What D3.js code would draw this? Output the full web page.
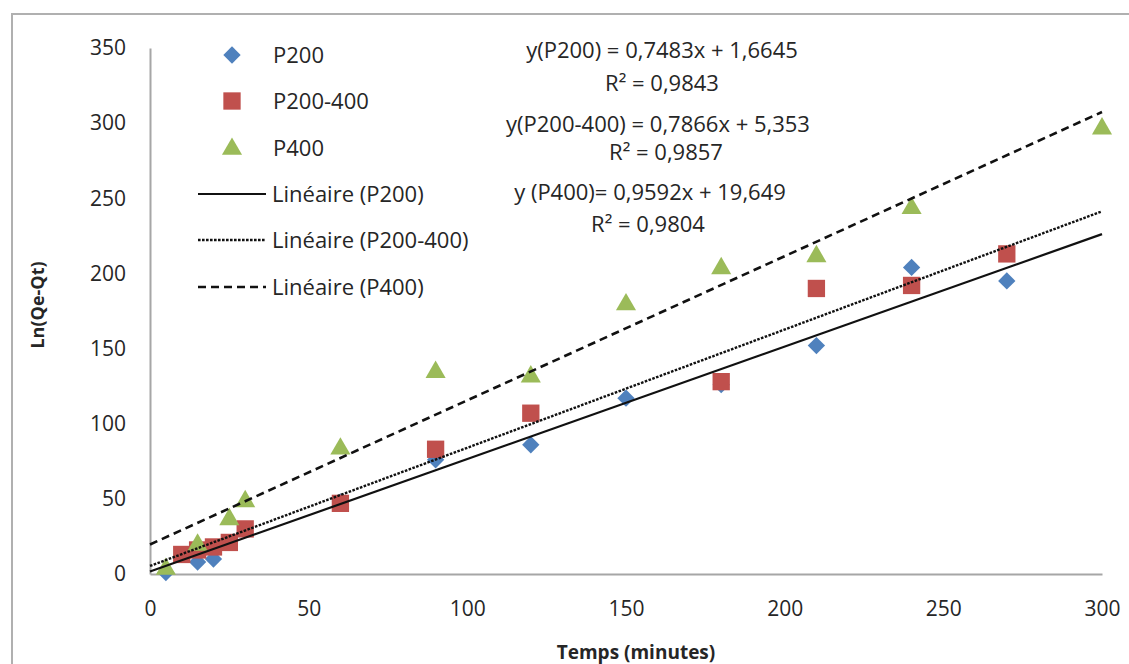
<!DOCTYPE html>
<html>
<head>
<meta charset="utf-8">
<script src="https://cdn.jsdelivr.net/npm/d3@7"></script>
<style>
  html, body { margin: 0; padding: 0; background: #fff; }
  svg { display: block; font-family: "Open Sans", "Liberation Sans", sans-serif; }
</style>
</head>
<body>
<svg id="chart" width="1129" height="664"></svg>
<script>
// Cinétique : Ln(Qe-Qt) en fonction du temps pour trois granulométries
const tempsP200 = [5, 15, 20, 60, 90, 120, 150, 180, 210, 240, 270];
const valeursP200 = [1, 8, 10, 48, 76, 86, 117, 126, 152, 204, 195];

const tempsP200_400 = [10, 15, 20, 25, 30, 60, 90, 120, 180, 210, 240, 270];
const valeursP200_400 = [13, 16, 18, 21, 30, 47, 83, 107, 128, 190, 192, 213];

const tempsP400 = [5, 15, 25, 30, 60, 90, 120, 150, 180, 210, 240, 300];
const valeursP400 = [4, 20, 37, 49, 84, 135, 132, 180, 204, 212, 244, 297];

// Droites de régression linéaire (pente, ordonnée à l'origine)
const penteP200 = 0.7483, origineP200 = 1.6645;
const penteP200_400 = 0.7866, origineP200_400 = 5.353;
const penteP400 = 0.9592, origineP400 = 19.649;

const xTicks = [0, 50, 100, 150, 200, 250, 300];
const yTicks = [0, 50, 100, 150, 200, 250, 300, 350];

const seriesNames = ["P200", "P200-400", "P400"];
const trendNames = ["Linéaire (P200)", "Linéaire (P200-400)", "Linéaire (P400)"];
const equationLabels = [
  "y(P200) = 0,7483x + 1,6645", "R² = 0,9843",
  "y(P200-400) = 0,7866x + 5,353", "R² = 0,9857",
  "y (P400)= 0,9592x + 19,649", "R² = 0,9804"
];

const svg = d3.select("#chart");
const textColor = "#262626";
const axisColor = "#a6a6a6";
const colors = { diamond: "#4f81bd", square: "#c0504d", triangle: "#9bbb59" };

// outer chart frame
svg.append("rect")
  .attr("x", 12).attr("y", 14).attr("width", 1140).attr("height", 700)
  .attr("fill", "#fff").attr("stroke", "#b0b0b0").attr("stroke-width", 2);

const x = d3.scaleLinear().domain([0, 300]).range([150, 1102]);
const y = d3.scaleLinear().domain([0, 350]).range([574, 48]);

// axes
const gx = svg.append("g").attr("transform", "translate(0,574)")
  .call(d3.axisBottom(x).tickValues(xTicks).tickSize(0).tickSizeOuter(0).tickPadding(27));
const gy = svg.append("g").attr("transform", "translate(150,0)")
  .call(d3.axisLeft(y).tickValues(yTicks).tickSize(0).tickSizeOuter(0).tickPadding(24));
[gx, gy].forEach(g => {
  g.select(".domain").attr("stroke", axisColor).attr("stroke-width", 2);
  g.selectAll("text").attr("fill", textColor).style("font-size", "21px")
    .style("font-family", "'Open Sans', sans-serif");
});

// axis titles
svg.append("text")
  .attr("x", 636).attr("y", 659)
  .attr("text-anchor", "middle")
  .attr("fill", textColor).style("font-size", "19px").style("font-weight", "bold")
  .text("Temps (minutes)");
svg.append("text")
  .attr("transform", "translate(44,305) rotate(-90)")
  .attr("text-anchor", "middle")
  .attr("fill", textColor).style("font-size", "18px").style("font-weight", "bold")
  .text("Ln(Qe-Qt)");

// marker shapes
function markerPath(kind) {
  if (kind === "diamond") return d3.symbol().type(d3.symbolSquare).size(150)();
  if (kind === "square") return d3.symbol().type(d3.symbolSquare).size(300)();
  return d3.symbol().type(d3.symbolTriangle).size(175)();
}
function markerTransform(kind, px, py) {
  if (kind === "diamond") return `translate(${px},${py}) rotate(45)`;
  if (kind === "triangle") return `translate(${px},${py + 1})`;
  return `translate(${px},${py})`;
}

// trend lines
const trends = [
  { a: penteP200, b: origineP200, dash: null, w: 2.2 },
  { a: penteP200_400, b: origineP200_400, dash: "2.6,1.4", w: 2.4 },
  { a: penteP400, b: origineP400, dash: "8,5", w: 2.6 }
];
const line = d3.line().x(d => x(d[0])).y(d => y(d[1]));

// scatter series
const series = [
  { kind: "diamond", t: tempsP200, v: valeursP200 },
  { kind: "square", t: tempsP200_400, v: valeursP200_400 },
  { kind: "triangle", t: tempsP400, v: valeursP400 }
];
series.forEach(s => {
  svg.append("g").selectAll("path")
    .data(s.t.map((t, i) => [t, s.v[i]]))
    .join("path")
    .attr("d", markerPath(s.kind))
    .attr("transform", d => markerTransform(s.kind, x(d[0]), y(d[1])))
    .attr("fill", colors[s.kind]);
});

trends.forEach(tr => {
  svg.append("path")
    .datum([0, 300].map(t => [t, tr.a * t + tr.b]))
    .attr("d", line)
    .attr("fill", "none")
    .attr("stroke", "#111")
    .attr("stroke-width", tr.w)
    .attr("stroke-dasharray", tr.dash);
});

// legend
const legend = svg.append("g");
const legendMarkerY = [55, 101, 148];
series.forEach((s, i) => {
  legend.append("path")
    .attr("d", markerPath(s.kind))
    .attr("transform", markerTransform(s.kind, 232, legendMarkerY[i]))
    .attr("fill", colors[s.kind]);
  legend.append("text")
    .attr("x", 273).attr("y", legendMarkerY[i]).attr("dy", "0.35em")
    .attr("fill", textColor).style("font-size", "22px")
    .text(seriesNames[i]);
});
const legendLineY = [194, 240, 287];
trends.forEach((tr, i) => {
  legend.append("line")
    .attr("x1", 198).attr("x2", 266)
    .attr("y1", legendLineY[i]).attr("y2", legendLineY[i])
    .attr("stroke", "#111").attr("stroke-width", tr.w)
    .attr("stroke-dasharray", tr.dash);
  legend.append("text")
    .attr("x", 272).attr("y", legendLineY[i]).attr("dy", "0.35em")
    .attr("fill", textColor).style("font-size", "22px")
    .text(trendNames[i]);
});

// regression equations
const eqPos = [[662, 50], [662, 83], [658, 124], [666, 152], [650, 192], [648, 224]];
svg.append("g").selectAll("text")
  .data(equationLabels)
  .join("text")
  .attr("x", (d, i) => eqPos[i][0])
  .attr("y", (d, i) => eqPos[i][1])
  .attr("dy", "0.35em")
  .attr("text-anchor", "middle")
  .attr("fill", textColor)
  .style("font-size", "22px")
  .text(d => d);
</script>
</body>
</html>
